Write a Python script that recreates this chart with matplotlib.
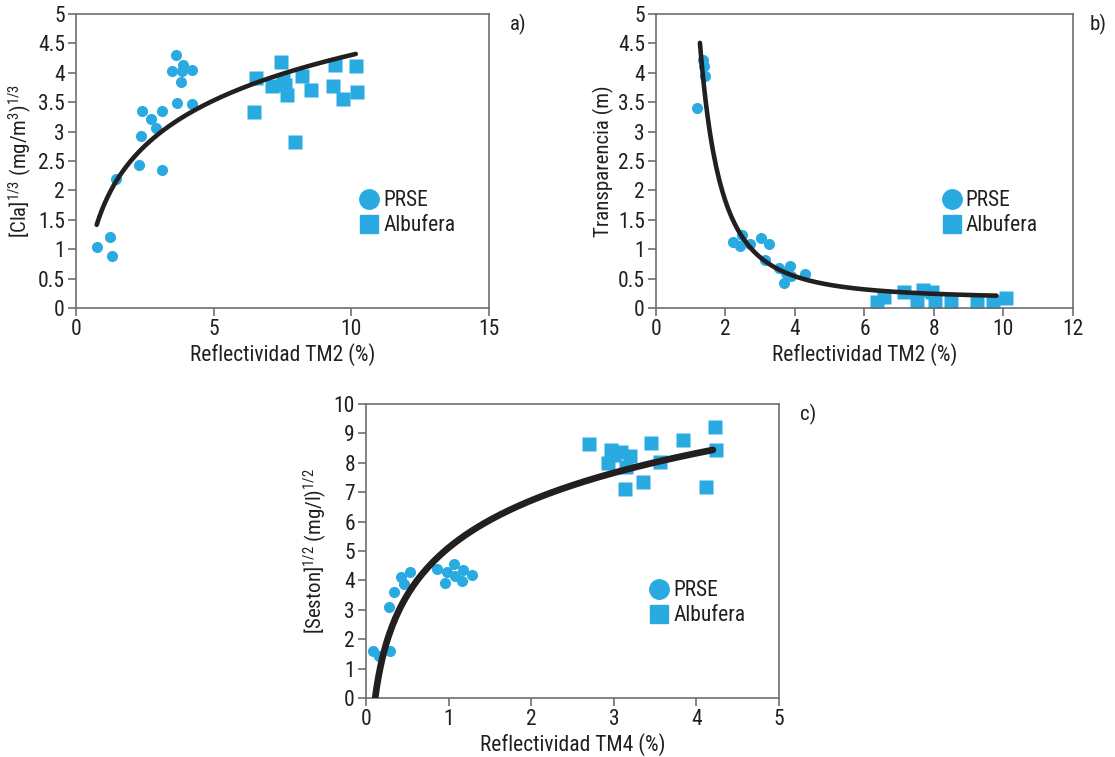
import matplotlib
matplotlib.use("Agg")
import matplotlib.pyplot as plt
from matplotlib.lines import Line2D
import numpy as np

plt.rcParams['font.family'] = ['Roboto Condensed', 'DejaVu Sans']
plt.rcParams['mathtext.default'] = 'regular'

BLUE = '#29abe2'
INK = '#231f20'
SPINE = '#6d6e71'

# a) chlorophyll vs TM2
a_prse_x = [0.77, 1.22, 1.31, 1.46, 2.30, 2.37, 2.39, 2.72, 2.90, 3.11, 3.11,
            3.49, 3.62, 3.88, 3.86, 3.82, 3.66, 4.22, 4.22]
a_prse_y = [1.04, 1.21, 0.89, 2.19, 2.44, 2.93, 3.35, 3.22, 3.06, 3.35, 2.34,
            4.03, 4.31, 4.13, 4.03, 3.85, 3.49, 3.47, 4.05]
a_alb_x = [6.53, 6.48, 7.13, 7.44, 7.50, 7.58, 7.67, 7.94, 8.19, 8.55, 9.33,
           9.40, 9.70, 10.18, 10.21]
a_alb_y = [3.91, 3.33, 3.77, 4.19, 3.87, 3.80, 3.62, 2.83, 3.95, 3.71, 3.78,
           4.14, 3.56, 4.11, 3.67]
a_fit = (1.736, 1.115)          # y = a + b ln(x)
a_range = (0.75, 10.16)

# b) transparency vs TM2
b_prse_x = [1.36, 1.39, 1.40, 1.17, 2.22, 2.42, 2.49, 2.72, 3.02, 3.24, 3.14,
            3.53, 3.85, 3.68, 3.90, 3.75, 4.30]
b_prse_y = [4.22, 4.12, 3.95, 3.40, 1.12, 1.06, 1.24, 1.09, 1.19, 1.09, 0.82,
            0.68, 0.71, 0.42, 0.55, 0.60, 0.58]
b_alb_x = [6.35, 6.56, 7.14, 7.52, 7.69, 7.93, 8.02, 8.50, 9.24, 9.70, 10.07]
b_alb_y = [0.11, 0.19, 0.27, 0.12, 0.30, 0.27, 0.11, 0.11, 0.10, 0.11, 0.17]
b_fit = (0.151, 7.14, -2.1)     # y = c + a x^b
b_range = (1.265, 9.8)

# c) seston vs TM4
c_prse_x = [0.08, 0.16, 0.29, 0.28, 0.34, 0.42, 0.46, 0.53, 0.86, 0.98, 0.96,
            1.07, 1.08, 1.17, 1.16, 1.28]
c_prse_y = [1.59, 1.42, 1.59, 3.11, 3.60, 4.11, 3.88, 4.27, 4.38, 4.27, 3.91,
            4.55, 4.16, 4.36, 3.99, 4.19]
c_alb_x = [2.70, 2.96, 2.93, 3.00, 3.09, 3.19, 3.15, 3.14, 3.35, 3.45, 3.56,
           3.84, 4.11, 4.23, 4.24]
c_alb_y = [8.64, 8.44, 7.98, 8.25, 8.38, 8.23, 7.85, 7.11, 7.36, 8.66, 8.04,
           8.78, 7.17, 9.21, 8.44]
c_fit = (5.114, 2.317)          # y = a + b ln(x)
c_range = (0.11, 4.2)

fig = plt.figure(figsize=(11.15, 7.57), dpi=100)
ax_a = fig.add_axes([0.0682, 0.5931, 0.3704, 0.3884])
ax_b = fig.add_axes([0.5883, 0.5931, 0.3740, 0.3884])
ax_c = fig.add_axes([0.3283, 0.0779, 0.3704, 0.3884])


def style(ax, xmax, xstep, ymax, ystep, xlabel, ylabel, tag, tagx):
    ax.set_xlim(0, xmax)
    ax.set_ylim(0, ymax)
    ax.set_xticks(np.arange(0, xmax + 0.01, xstep))
    ax.set_yticks(np.arange(0, ymax + 0.01, ystep))
    ax.set_yticklabels(['%g' % v for v in np.arange(0, ymax + 0.01, ystep)])
    for s in ax.spines.values():
        s.set_color(SPINE)
        s.set_linewidth(1.2)
    ax.tick_params(direction='out', length=6, width=1.2, color=SPINE,
                   labelsize=15.5, labelcolor=INK, pad=2)
    ax.set_xlabel(xlabel, fontsize=15.5, color=INK, labelpad=2)
    ax.set_ylabel(ylabel, fontsize=15, color=INK, labelpad=3)
    ax.text(tagx, 0.963, tag, transform=ax.transAxes, fontsize=15,
            color=INK, va='center', ha='left')
    handles = [Line2D([], [], ls='none', marker='o', ms=14, color=BLUE),
               Line2D([], [], ls='none', marker='s', ms=13, color=BLUE)]
    ax.legend(handles, ['PRSE', 'Albufera'], loc='upper left',
              bbox_to_anchor=(0.632, 0.467), frameon=False, fontsize=15.5,
              handletextpad=0.05, labelspacing=0.2, handlelength=1.2,
              labelcolor=INK)


def points(ax, px, py, sx, sy):
    ax.plot(px, py, 'o', ms=8, color=BLUE, mec='none', zorder=2)
    ax.plot(sx, sy, 's', ms=9.5, color=BLUE, mec='none', zorder=2)


# a
points(ax_a, a_prse_x, a_prse_y, a_alb_x, a_alb_y)
xa = np.linspace(*a_range, 200)
ax_a.plot(xa, a_fit[0] + a_fit[1] * np.log(xa), color=INK, lw=3.3,
          solid_capstyle='round', zorder=3)
style(ax_a, 15, 5, 5, 0.5, 'Reflectividad TM2 (%)',
      '[Cla]$^{1/3}$ (mg/m$^{3}$)$^{1/3}$', 'a)', 1.05)

# b
points(ax_b, b_prse_x, b_prse_y, b_alb_x, b_alb_y)
xb = np.linspace(*b_range, 200)
ax_b.plot(xb, b_fit[0] + b_fit[1] * xb ** b_fit[2], color=INK, lw=3.3,
          solid_capstyle='round', zorder=3)
style(ax_b, 12, 2, 5, 0.5, 'Reflectividad TM2 (%)', 'Transparencia (m)',
      'b)', 1.04)

# c
points(ax_c, c_prse_x, c_prse_y, c_alb_x, c_alb_y)
xc = np.linspace(*c_range, 200)
ax_c.plot(xc, c_fit[0] + c_fit[1] * np.log(xc), color=INK, lw=4.8,
          solid_capstyle='round', zorder=3)
style(ax_c, 5, 1, 10, 1, 'Reflectividad TM4 (%)',
      '[Seston]$^{1/2}$ (mg/l)$^{1/2}$', 'c)', 1.05)

fig.savefig('out.png', dpi=100)
